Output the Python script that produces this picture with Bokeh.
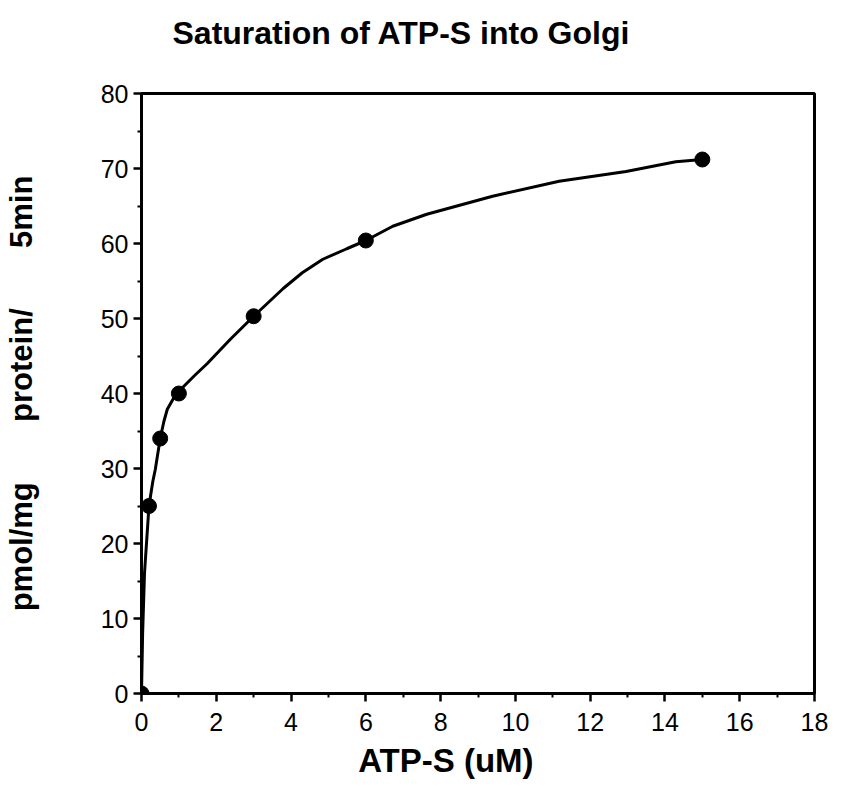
from bokeh.plotting import figure
from bokeh.embed import file_html
from bokeh.resources import INLINE
from bokeh.models import Range1d, FixedTicker, Title

# measured data points
atp_x = [0, 0.2, 0.5, 1, 3, 6, 15]
uptake_y = [0, 25, 34, 40, 50.3, 60.4, 71.2]

# hand-drawn curve
curve_x = [0, 0.03, 0.08, 0.2, 0.3, 0.37, 0.5, 0.6, 0.69, 0.85, 1.0, 1.4, 1.76,
           2.37, 3.0, 3.79, 4.3, 4.85, 5.49, 6.0, 6.72, 7.63, 9.39, 11.17,
           12.96, 14.29, 15]
curve_y = [0, 8, 16, 25, 28.2, 29.9, 34, 36.3, 37.9, 39.3, 40.3, 42.3, 44.0,
           47.2, 50.3, 54.0, 56.1, 57.9, 59.3, 60.4, 62.3, 63.9, 66.3, 68.3,
           69.6, 70.9, 71.2]

x_ticks = [0, 2, 4, 6, 8, 10, 12, 14, 16, 18]
x_minor = [1, 3, 5, 7, 9, 11, 13, 15, 17]
y_ticks = [0, 10, 20, 30, 40, 50, 60, 70, 80]
y_minor = [5, 15, 25, 35, 45, 55, 65, 75]

title_text = "Saturation of ATP-S into Golgi"
x_label = "ATP-S (uM)"
y_label_parts = ["pmol/mg", "protein/", "5min"]

FONT = "Liberation Sans"
NB = "\u00a0"

p = figure(width=830, height=781, output_backend="svg", toolbar_location=None,
           x_range=Range1d(0, 18), y_range=Range1d(0, 80), title=None,
           min_border_left=141, min_border_right=16,
           min_border_top=93, min_border_bottom=88)

p.grid.visible = False
p.outline_line_color = "black"
p.outline_line_width = 3
p.background_fill_color = "white"
p.border_fill_color = "white"

for ax in (p.xaxis[0], p.yaxis[0]):
    ax.axis_line_width = 3
    ax.axis_line_color = "black"
    ax.major_tick_line_width = 2.5
    ax.minor_tick_line_width = 2
    ax.major_tick_in = 0
    ax.major_tick_out = 8
    ax.minor_tick_in = 0
    ax.minor_tick_out = 4
    ax.major_label_text_font = FONT
    ax.major_label_text_font_size = "25px"
    ax.major_label_text_color = "black"
    ax.axis_label_text_font = FONT
    ax.axis_label_text_font_style = "bold"
    ax.axis_label_text_color = "black"

p.xaxis[0].ticker = FixedTicker(ticks=x_ticks, minor_ticks=x_minor)
p.yaxis[0].ticker = FixedTicker(ticks=y_ticks, minor_ticks=y_minor)
p.xaxis[0].major_label_standoff = 11
p.yaxis[0].major_label_standoff = 5

# x label sits left of the frame centre in the original
p.xaxis[0].axis_label = x_label + NB * 7
p.xaxis[0].axis_label_text_font_size = "33px"
p.xaxis[0].axis_label_standoff = 8

p.yaxis[0].axis_label = (NB * 7).join(y_label_parts)
p.yaxis[0].axis_label_text_font_size = "31px"
p.yaxis[0].axis_label_standoff = 59

# spacer between frame and title, then the title itself
p.add_layout(Title(text=NB, text_font_size="37px", standoff=0), "above")
p.add_layout(Title(text=title_text, text_font=FONT, text_font_size="32px",
                   text_font_style="bold", text_color="black", align="left",
                   offset=31, standoff=0), "above")

p.line(curve_x, curve_y, line_color="black", line_width=3)
p.scatter(atp_x, uptake_y, size=15, fill_color="black", line_color="black")

open("out.html", "w").write(file_html(p, INLINE))
